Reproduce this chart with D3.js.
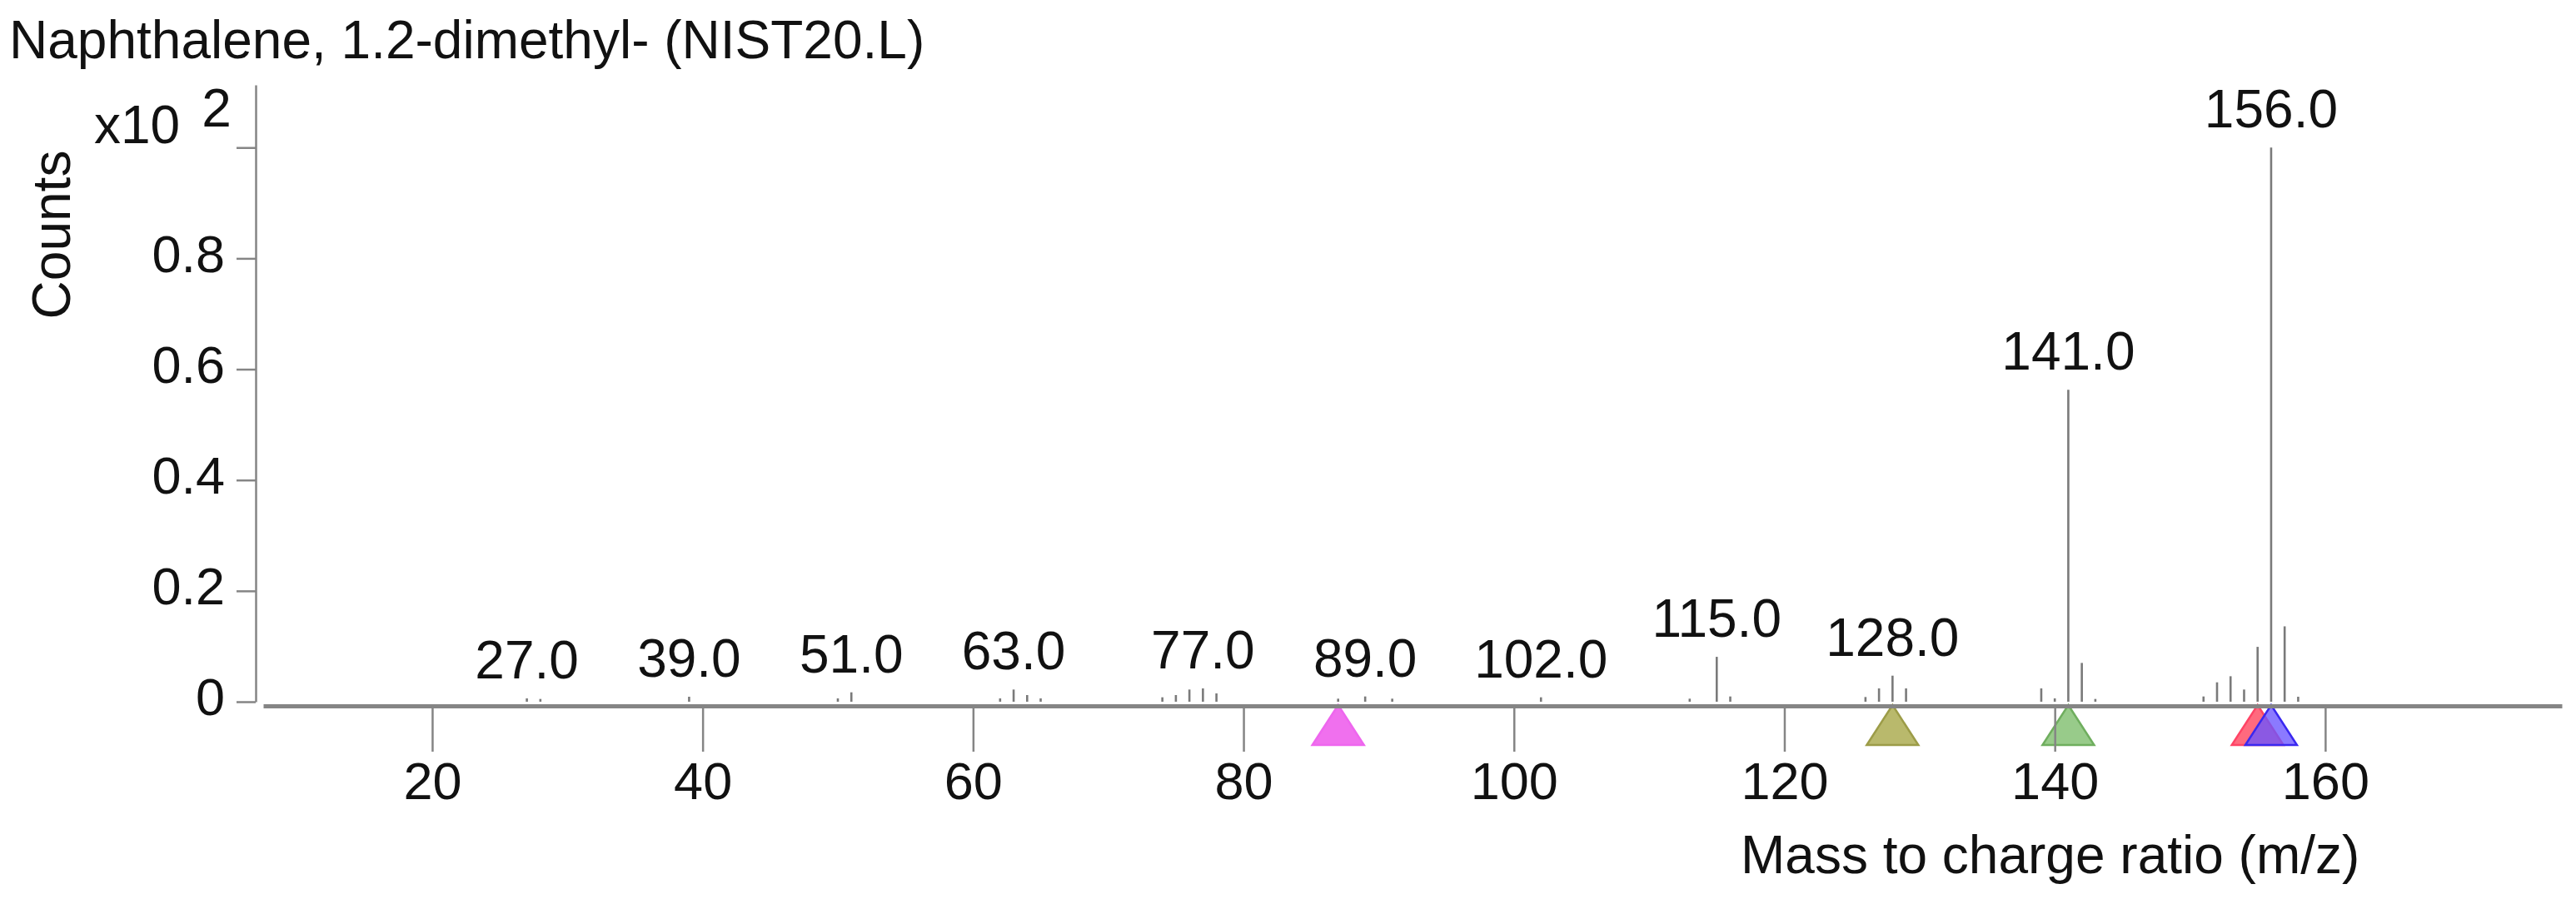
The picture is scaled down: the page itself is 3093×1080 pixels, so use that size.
<!DOCTYPE html>
<html>
<head>
<meta charset="utf-8">
<script src="https://cdn.jsdelivr.net/npm/d3@7"></script>
<style>
  body { margin: 0; background: #fff; }
  svg { display: block; font-family: "Liberation Sans", Arial, sans-serif; }
  .axis text { font-size: 63px; fill: #111; }
  .axis path, .axis line { stroke: #858585; }
  .peak { stroke: #7a7a7a; stroke-width: 2.6; }
  .plabel { font-size: 64px; fill: #111; text-anchor: middle; }
</style>
</head>
<body>
<script>

// spectrum: m/z and relative abundance (% of base peak, 100 = 1.0 x10^2 counts)
const mz = [27, 28, 39, 50, 51, 62, 63, 64, 65, 74, 75, 76, 77, 78,
            87, 89, 91, 102, 113, 115, 116, 126, 127, 128, 129,
            139, 140, 141, 142, 143, 151, 152, 153, 154, 155, 156, 157, 158];
const abundance = [0.6, 0.5, 0.9, 0.6, 1.7, 0.6, 2.2, 1.2, 0.6, 0.8, 1.2, 2.2, 2.4, 1.5,
                   0.55, 0.95, 0.55, 0.8, 0.55, 8.1, 0.95, 0.85, 2.4, 4.7, 2.4,
                   2.4, 0.6, 56.3, 7.0, 0.5, 0.95, 3.5, 4.6, 2.2, 9.9, 100, 13.6, 0.9];

// annotated peaks
const labelled = [27, 39, 51, 63, 77, 89, 102, 115, 128, 141, 156];

// marker triangles under the axis
const markerMz = [87, 128, 141, 155, 156];
const markerFill = ["#f070ee", "#b9b96c", "#98cb8a", "#ff6a7e", "#6a55ff"];
const markerStroke = ["#ee66ee", "#9c9c48", "#6fae5e", "#ff4466", "#3a28f0"];
const markerAlpha = [1, 1, 1, 1, 0.78];

const xTicks = [20, 40, 60, 80, 100, 120, 140, 160];
const yTicks = [0, 20, 40, 60, 80, 100];

const title = "Naphthalene, 1.2-dimethyl- (NIST20.L)";
const xTitle = "Mass to charge ratio (m/z)";
const yTitle = "Counts";

const W = 3093, H = 1080;

const svg = d3.select("body").append("svg")
    .attr("width", W)
    .attr("height", H);

let xscale = d3.scaleLinear().domain([7.5, 177.5]).range([316, 3076]);
let yscale = d3.scaleLinear().domain([0, 111.3]).range([843, 102]);

let peaks = mz.map((m, i) => ({ mz: m, v: abundance[i] }));

// --------------------------------------------------
// markers (drawn first so the axis ticks show through)
let tri = { w: 62, h: 48, top: 847 };

svg.append("g")
  .selectAll("path")
  .data(markerMz)
  .enter()
  .append("path")
    .attr("d", function (m) {
      let p = d3.path(), cx = xscale(m);
      p.moveTo(cx, tri.top);
      p.lineTo(cx + tri.w / 2, tri.top + tri.h);
      p.lineTo(cx - tri.w / 2, tri.top + tri.h);
      p.closePath();
      return p.toString();
    })
    .attr("fill", (d, i) => markerFill[i])
    .attr("stroke", (d, i) => markerStroke[i])
    .attr("stroke-width", 2.5)
    .attr("fill-opacity", (d, i) => markerAlpha[i]);

// --------------------------------------------------
// axes
let xAxis = d3.axisBottom(xscale)
    .tickValues(xTicks)
    .tickSize(55)
    .tickSizeOuter(0)
    .tickPadding(12)
    .tickFormat(d3.format("d"));

let gx = svg.append("g")
    .attr("class", "x axis")
    .attr("transform", "translate(0,848)")
    .call(xAxis);
gx.select(".domain").attr("stroke-width", 5);
gx.selectAll(".tick line").attr("stroke-width", 2.5);

let yAxis = d3.axisLeft(yscale)
    .tickValues(yTicks)
    .tickSize(23)
    .tickSizeOuter(0)
    .tickPadding(14)
    .tickFormat(d => d === 100 ? "" : d3.format("~g")(d / 100));

let gy = svg.append("g")
    .attr("class", "y axis")
    .attr("transform", "translate(307,0)")
    .call(yAxis);
gy.select(".domain").attr("stroke-width", 2.5);
gy.selectAll(".tick line").attr("stroke-width", 2.5);
gy.selectAll(".tick text").attr("dy", "0.25em");

// exponent label on the top tick
let expo = svg.append("text")
    .attr("x", 113)
    .attr("y", yscale(100) - 5)
    .attr("font-size", 64)
    .attr("fill", "#111")
    .text("x10");
expo.append("tspan")
    .attr("dx", 26)
    .attr("dy", -20)
    .text("2");

// --------------------------------------------------
// sticks
svg.append("g")
  .selectAll(".peak")
  .data(peaks)
  .enter()
  .append("line")
    .attr("class", "peak")
    .attr("x1", d => xscale(d.mz))
    .attr("x2", d => xscale(d.mz))
    .attr("y1", yscale(0))
    .attr("y2", d => yscale(d.v));

svg.append("g")
  .selectAll(".plabel")
  .data(peaks.filter(d => labelled.includes(d.mz)))
  .enter()
  .append("text")
    .attr("class", "plabel")
    .attr("x", d => xscale(d.mz))
    .attr("y", d => yscale(d.v) - 24)
    .text(d => d3.format(".1f")(d.mz));

// --------------------------------------------------
// titles
svg.append("text")
    .attr("x", 11)
    .attr("y", 70)
    .attr("font-size", 64)
    .attr("fill", "#111")
    .text(title);

svg.append("text")
    .attr("x", 2090)
    .attr("y", 1049)
    .attr("font-size", 64)
    .attr("fill", "#111")
    .text(xTitle);

svg.append("text")
    .attr("transform", "translate(84,282) rotate(-90)")
    .attr("text-anchor", "middle")
    .attr("font-size", 64)
    .attr("fill", "#111")
    .text(yTitle);

</script>
</body>
</html>
